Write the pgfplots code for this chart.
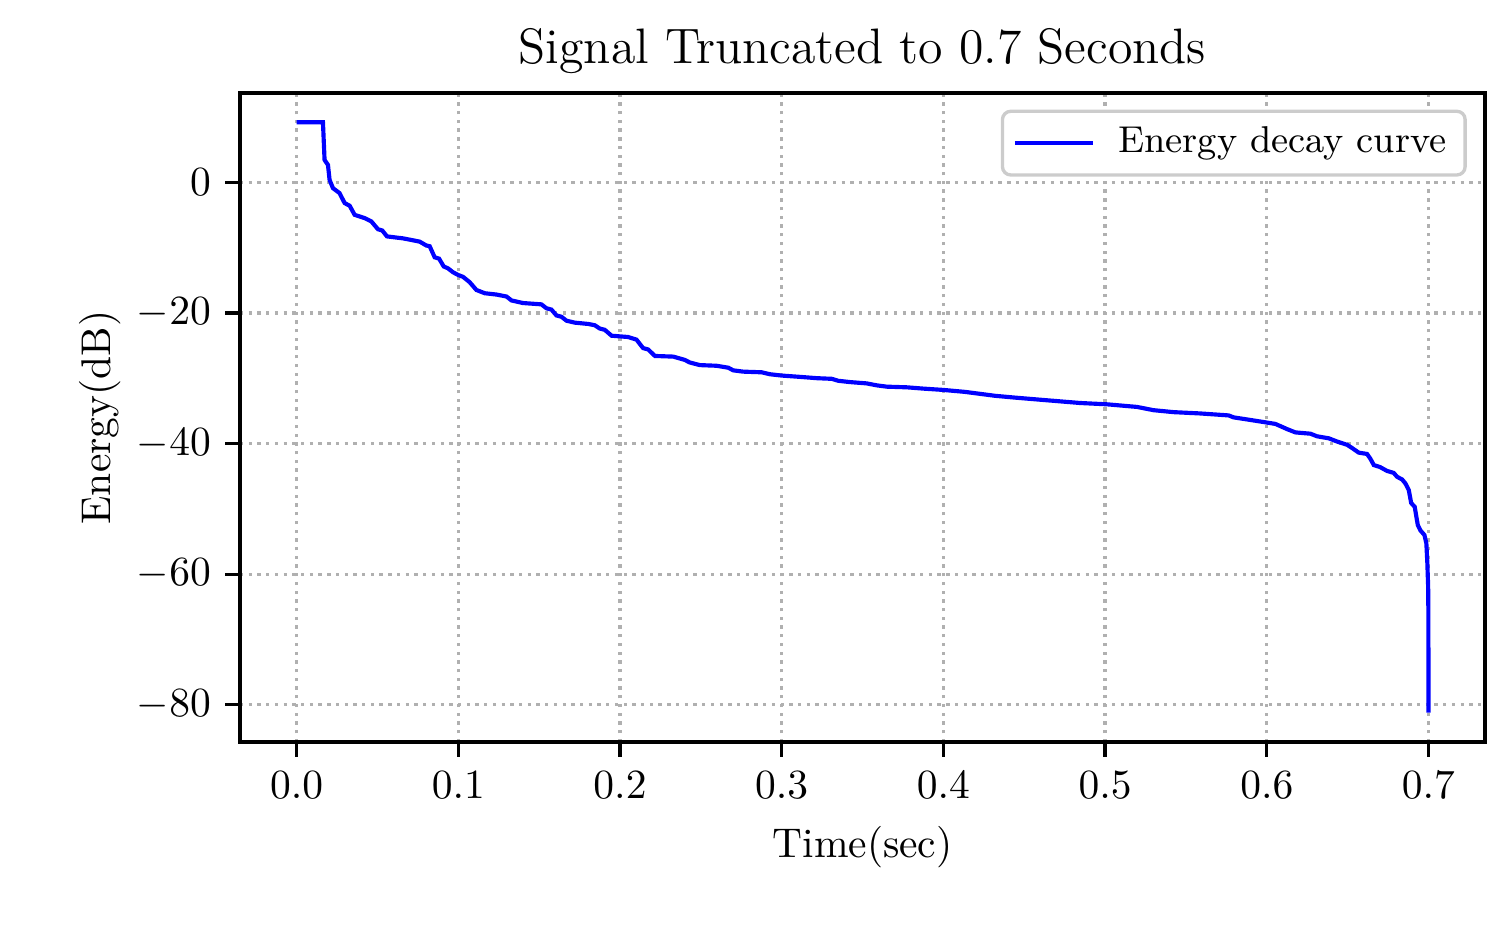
\documentclass[border=0pt]{standalone}
\usepackage{pgfplots}
\pgfplotsset{compat=1.18}
\begin{document}
\begin{tikzpicture}
\path[use as bounding box] (-57.81pt,-44.57pt) rectangle (303.5pt,178.74pt);
\begin{axis}[
  scale only axis,
  width=299.91pt, height=156.34pt,
  at={(0,0)}, anchor=south west,
  xmin=-0.035, xmax=0.735,
  ymin=-85.7, ymax=13.65,
  xtick={0,0.1,0.2,0.3,0.4,0.5,0.6,0.7},
  ytick={-80,-60,-40,-20,0},
  xticklabel style={/pgf/number format/fixed,/pgf/number format/fixed zerofill,/pgf/number format/precision=1},
  tick align=outside,
  major tick length=3.5pt,
  tick style={black, line width=0.8pt},
  axis line style={line width=0.8pt},
  xtick pos=bottom, ytick pos=left,
  grid=major,
  major grid style={color=black!31, line width=0.8pt, dash pattern=on 0.8pt off 1.3pt},
  title={Signal Truncated to 0.7 Seconds},
  title style={font=\large, yshift=-4.8pt},
  xlabel={Time(sec)},
  ylabel={Energy(dB)},
  ylabel style={yshift=-3pt},
  legend style={at={(rel axis cs:1,1)}, anchor=north east, xshift=-4.4pt, yshift=-4pt,
    draw=black!20, rounded corners=2pt, line width=0.8pt, font=\small,
    inner xsep=2.5pt, inner ysep=1.8pt},
  legend cell align=left,
  legend image code/.code={\draw[#1] (0pt,0pt) -- (18.8pt,0pt); \path (22.4pt,0pt);},
]
\addplot[blue, line width=1pt] coordinates {
(0,9.18) (0.0163,9.18) (0.0173,3.4) (0.0194,2.65) (0.0204,0.35) (0.0225,-0.92)
(0.0266,-1.68) (0.0297,-3.2) (0.0328,-3.6) (0.0359,-5.0) (0.0421,-5.5) (0.0462,-6.0)
(0.0503,-7.2) (0.053,-7.4) (0.0559,-8.3) (0.0658,-8.6) (0.070,-8.8) (0.0761,-9.1)
(0.0803,-9.7) (0.0823,-9.8) (0.0854,-11.5) (0.0881,-11.7) (0.091,-12.9) (0.0937,-13.2)
(0.0968,-13.8) (0.0999,-14.2) (0.103,-14.5) (0.107,-15.3) (0.1112,-16.5) (0.1164,-17.0)
(0.1236,-17.2) (0.1298,-17.5) (0.1329,-18.1) (0.140,-18.5) (0.1514,-18.7) (0.1545,-19.3)
(0.1576,-19.5) (0.1607,-20.4) (0.1638,-20.6) (0.1669,-21.2) (0.172,-21.5) (0.1803,-21.7)
(0.1844,-21.9) (0.1875,-22.4) (0.1906,-22.6) (0.1948,-23.5) (0.205,-23.7) (0.2102,-24.1)
(0.2143,-25.4) (0.2174,-25.6) (0.2216,-26.6) (0.233,-26.7) (0.240,-27.2) (0.2432,-27.6)
(0.2494,-28.0) (0.2598,-28.1) (0.267,-28.4) (0.270,-28.8) (0.2762,-29.0) (0.2876,-29.1)
(0.2928,-29.4) (0.300,-29.6) (0.3113,-29.8) (0.3217,-30.0) (0.331,-30.1) (0.335,-30.4)
(0.3423,-30.6) (0.3526,-30.8) (0.3588,-31.1) (0.365,-31.3) (0.3774,-31.4) (0.3877,-31.6)
(0.400,-31.8) (0.4134,-32.1) (0.4196,-32.3) (0.432,-32.7) (0.4454,-33.0) (0.460,-33.3)
(0.4846,-33.8) (0.5011,-34.0) (0.5197,-34.4) (0.530,-34.9) (0.5424,-35.2) (0.5589,-35.4)
(0.5764,-35.7) (0.5795,-36.0) (0.590,-36.4) (0.6002,-36.8) (0.6053,-37.0) (0.6126,-37.8)
(0.6177,-38.3) (0.627,-38.5) (0.6311,-38.9) (0.6383,-39.2) (0.6435,-39.7) (0.6497,-40.2)
(0.6528,-40.7) (0.6569,-41.4) (0.662,-41.6) (0.664,-42.3) (0.6662,-43.3) (0.670,-43.6)
(0.6744,-44.2) (0.6785,-44.5) (0.6806,-45.1) (0.6837,-45.5) (0.6857,-46.1) (0.6878,-47.1)
(0.6893,-49.1) (0.6915,-49.7) (0.6934,-52.5) (0.695,-53.3) (0.6975,-54.0) (0.6987,-55.3)
(0.6993,-58.3) (0.6998,-61.9) (0.69995,-66.0) (0.7,-81.2)
};
\addlegendentry{Energy decay curve}
\end{axis}
\end{tikzpicture}
\end{document}
